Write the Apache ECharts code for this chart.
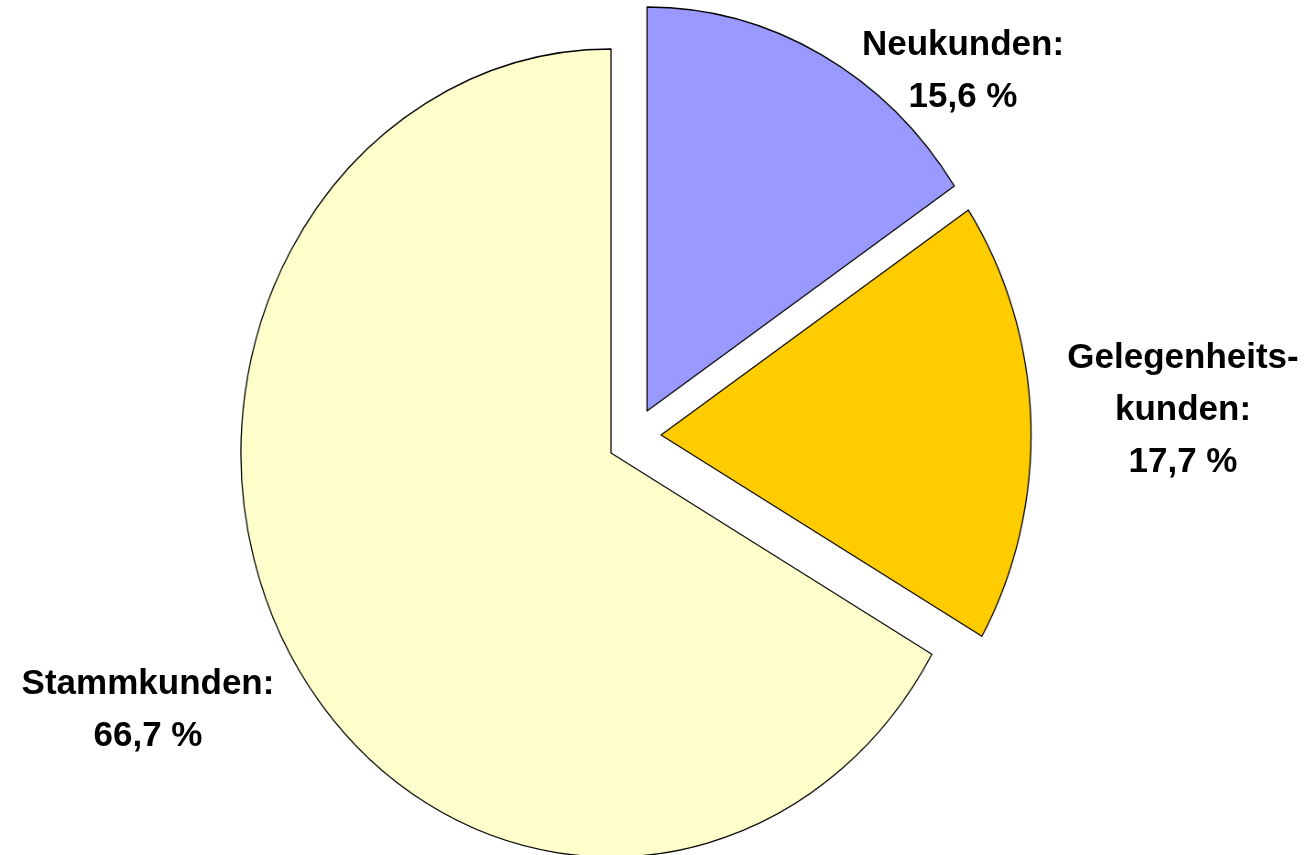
<!DOCTYPE html>
<html>
<head>
<meta charset="utf-8">
<script src="https://cdn.jsdelivr.net/npm/echarts@6/dist/echarts.min.js"></script>
<style>
    html, body {margin: 0; padding: 0; background: #fff;}
    .layer {position: absolute; left: 0; top: 0; width: 1311px; height: 855px;}
    /* the original pie is an ellipse: squeeze the sector layer horizontally */
    #pie {transform: scaleX(0.916); transform-origin: 611px 0;}
</style>
</head>
<body>
<div id="pie" class="layer"></div>
<div id="labels" class="layer"></div>
<script>
// Kundenstruktur
const names = ['Neukunden', 'Gelegenheits-\nkunden', 'Stammkunden'];
const values = [15.6, 17.7, 66.7];

const colors = ['#9999FF', '#FFCC00', '#FFFFCC'];
const SCALE_X = 0.916;
const CX = 611;
// pie centre per slice on screen (exploded slices are shifted)
const centers = [[647, 411], [661, 435], [611, 453]];
// label block centres (px)
const labelPos = [[963, 71], [1183, 410], [148, 710]];

let pieChart = echarts.init(document.getElementById('pie'));
let labelChart = echarts.init(document.getElementById('labels'));

// one pie series per slice, only that slice visible -> explode offset
function buildSeries(k, withLabels) {
    let data = [];
    for (let i = 0; i < names.length; i++) {
        let visible = (i === k);
        data.push({
            name: names[i],
            value: values[i],
            itemStyle: (visible && !withLabels)
                ? {color: colors[i], borderColor: '#000', borderWidth: 1.3}
                : {color: 'transparent', borderWidth: 0},
            label: {show: visible && withLabels}
        });
    }
    let c = centers[k];
    return {
        type: 'pie',
        center: withLabels ? c : [CX + (c[0] - CX) / SCALE_X, c[1]],
        radius: 404,
        startAngle: 90,
        clockwise: true,
        silent: true,
        avoidLabelOverlap: false,
        emphasis: {disabled: true},
        label: {
            position: 'inside',
            color: '#000',
            fontFamily: 'Liberation Sans, Arial, sans-serif',
            fontWeight: 'bold',
            fontSize: 35,
            lineHeight: 52,
            align: 'center',
            formatter: function (p) {
                return p.name + ':\n' + p.value.toFixed(1).replace('.', ',') + ' %';
            }
        },
        labelLine: {show: false},
        labelLayout: function (params) {
            let pos = labelPos[params.dataIndex];
            return {x: pos[0], y: pos[1], align: 'center', verticalAlign: 'middle'};
        },
        data: data
    };
}

pieChart.setOption({
    animation: false,
    series: [buildSeries(2, false), buildSeries(0, false), buildSeries(1, false)]
});

labelChart.setOption({
    animation: false,
    series: [buildSeries(2, true), buildSeries(0, true), buildSeries(1, true)]
});
</script>
</body>
</html>
